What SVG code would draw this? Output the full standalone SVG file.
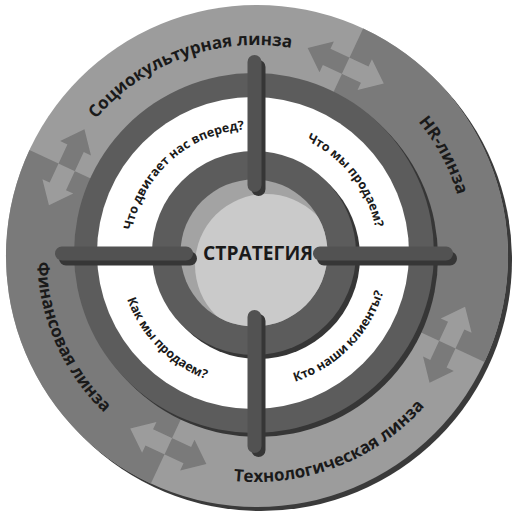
<svg xmlns="http://www.w3.org/2000/svg" width="529" height="523" viewBox="0 0 529 523">
<style>
.lbl{font-family:"Open Sans","Liberation Sans",sans-serif;font-weight:700;font-size:17px;fill:#1a1a1a}
.q{font-family:"Open Sans","Liberation Sans",sans-serif;font-weight:700;font-size:12.5px;fill:#1a1a1a}
.bar{stroke:#525252;stroke-width:14;stroke-linecap:round;fill:none}
.bsh{stroke:#363636;stroke-width:14;stroke-linecap:round;fill:none}
</style>
<defs>
<path id="arr" d="M -42 0 L -21 -17 L -21 -9 L 21 -9 L 21 -17 L 42 0 L 21 17 L 21 9 L -21 9 L -21 17 Z"/>
<clipPath id="cr"><rect x="0" y="-60" width="60" height="120"/></clipPath>
<clipPath id="cc"><circle cx="254" cy="253" r="73.5"/></clipPath>
<path id="p-socio" d="M 49.2 218.5 A 210 210 0 0 1 391.0 94.1"/>
<path id="p-hr" d="M 263.3 45.1 A 210 210 0 0 1 434.1 366.3"/>
<path id="p-tech" d="M 113.6 431.6 A 226 226 0 0 0 479.5 288.8"/>
<path id="p-fin" d="M 78.8 126.3 A 219 219 0 0 0 233.1 472.8"/>
<path id="p-q1" d="M 132.7 278.8 A 124 124 0 0 1 292.3 135.1"/>
<path id="p-q2" d="M 235.9 130.3 A 124 124 0 0 1 369.3 298.6"/>
<path id="p-q3" d="M 123.9 216.9 A 135 135 0 0 0 287.8 383.7"/>
<path id="p-q4" d="M 220.0 383.6 A 135 135 0 0 0 384.2 217.1"/>
</defs>

<g id="outer-ring">
<circle cx="261" cy="260" r="251" fill="#3a3a3a"/>
<circle cx="257" cy="256" r="251" fill="#9c9c9c"/>
<path d="M 257 256 L 363.1 28.5 A 251 251 0 0 1 484.5 362.1 Z" fill="#7a7a7a"/>
<path d="M 257 256 L 150.9 483.5 A 251 251 0 0 1 29.5 149.9 Z" fill="#7a7a7a"/>
</g>

<g id="arrow-1" transform="translate(447.3,344.7) rotate(115)">
<use href="#arr" fill="#9c9c9c"/>
<use href="#arr" clip-path="url(#cr)" fill="#7a7a7a"/>
</g>
<g id="arrow-2" transform="translate(168.3,446.3) rotate(205)">
<use href="#arr" fill="#7a7a7a"/>
<use href="#arr" clip-path="url(#cr)" fill="#9c9c9c"/>
</g>
<g id="arrow-3" transform="translate(66.7,167.3) rotate(295)">
<use href="#arr" fill="#9c9c9c"/>
<use href="#arr" clip-path="url(#cr)" fill="#7a7a7a"/>
</g>
<g id="arrow-4" transform="translate(345.7,65.7) rotate(25)">
<use href="#arr" fill="#7a7a7a"/>
<use href="#arr" clip-path="url(#cr)" fill="#9c9c9c"/>
</g>

<g id="lens-socio"><text class="lbl"><textPath href="#p-socio" startOffset="50%" text-anchor="middle">Социокультурная линза</textPath></text></g>
<g id="lens-hr"><text class="lbl"><textPath href="#p-hr" startOffset="50%" text-anchor="middle">HR-линза</textPath></text></g>
<g id="lens-tech"><text class="lbl"><textPath href="#p-tech" startOffset="50%" text-anchor="middle">Технологическая линза</textPath></text></g>
<g id="lens-fin"><text class="lbl"><textPath href="#p-fin" startOffset="50%" text-anchor="middle">Финансовая линза</textPath></text></g>

<g id="middle-ring">
<circle cx="258" cy="257" r="180" fill="#363636"/>
<circle cx="254" cy="253" r="180" fill="#5c5c5c"/>
<circle cx="253" cy="253" r="156" fill="#ffffff"/>
</g>

<g id="q-forward"><text class="q"><textPath href="#p-q1" startOffset="50%" text-anchor="middle">Что двигает нас вперед?</textPath></text></g>
<g id="q-sell-what"><text class="q"><textPath href="#p-q2" startOffset="50%" text-anchor="middle">Что мы продаем?</textPath></text></g>
<g id="q-sell-how"><text class="q"><textPath href="#p-q3" startOffset="50%" text-anchor="middle">Как мы продаем?</textPath></text></g>
<g id="q-clients"><text class="q"><textPath href="#p-q4" startOffset="50%" text-anchor="middle">Кто наши клиенты?</textPath></text></g>

<g id="inner-ring">
<circle cx="258" cy="257" r="102" fill="#363636"/>
<circle cx="254" cy="253" r="102" fill="#5c5c5c"/>
<circle cx="254" cy="253" r="73.5" fill="#a3a3a3"/>
<circle cx="266" cy="265" r="71" fill="#cacaca" clip-path="url(#cc)"/>
</g>

<g id="connectors">
<path class="bsh" d="M 66 258.5 H 190 M 324 258.5 H 450 M 258.5 67 V 189 M 258.5 321 V 450"/>
<path class="bar" d="M 62 253.5 H 186 M 320 253.5 H 446 M 254.5 62 V 185 M 254.5 317 V 446"/>
</g>

<g id="strategy">
<text x="258" y="260" text-anchor="middle" textLength="110" lengthAdjust="spacingAndGlyphs" style="font-family:'Open Sans','Liberation Sans',sans-serif;font-weight:700;font-size:20px;fill:#1a1a1a">СТРАТЕГИЯ</text>
</g>
</svg>
